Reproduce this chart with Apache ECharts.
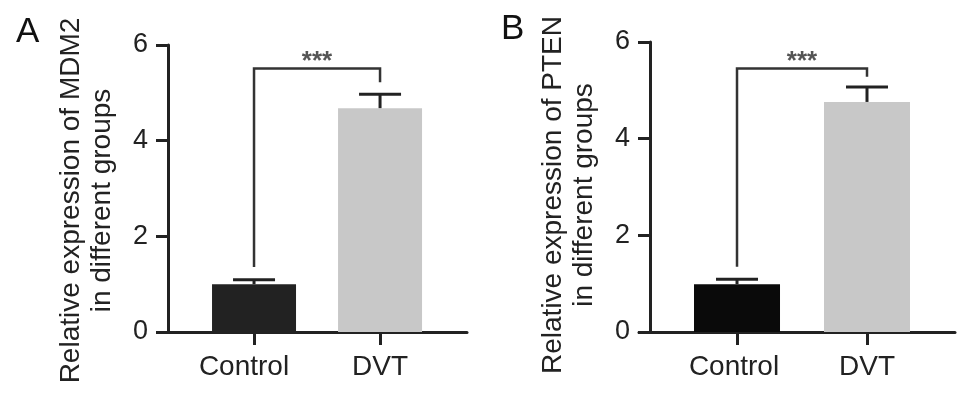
<!DOCTYPE html>
<html>
<head>
<meta charset="utf-8">
<script src="https://cdn.jsdelivr.net/npm/echarts@6/dist/echarts.min.js"></script>
<style>
html, body { margin: 0; padding: 0; background: #fff; }
#chart { width: 969px; height: 398px; }
</style>
</head>
<body>
<div id="chart"></div>
<script>
var groups = ['Control', 'DVT'];
var groupPos = [1, 2];
var yTicks = [0, 2, 4, 6];

// panel A: MDM2
var mdm2Mean = [1.0, 4.68];
var mdm2Upper = [1.09, 4.97];
var mdm2Bracket = [1.36, 5.51, 5.22]; // left foot, top, right foot

// panel B: PTEN
var ptenMean = [0.99, 4.76];
var ptenUpper = [1.09, 5.07];
var ptenBracket = [1.35, 5.45, 5.28];

var FONT = '"Liberation Sans", Arial, sans-serif';
var INK = '#222';

var chart = echarts.init(document.getElementById('chart'));

function barData(mean, colors) {
    return mean.map(function (v, i) {
        return { value: [groupPos[i], v], itemStyle: { color: colors[i] } };
    });
}
function errData(mean, upper) {
    return mean.map(function (v, i) { return [groupPos[i], v, upper[i]]; });
}

function renderErr(params, api) {
    var base = api.coord([api.value(0), api.value(1)]);
    var top = api.coord([api.value(0), api.value(2)]);
    var st = { stroke: INK, lineWidth: 3 };
    return {
        type: 'group',
        children: [
            { type: 'line', shape: { x1: base[0], y1: base[1], x2: top[0], y2: top[1] }, style: st },
            { type: 'line', shape: { x1: top[0] - 21, y1: top[1], x2: top[0] + 21, y2: top[1] }, style: st }
        ]
    };
}

function renderBracket(params, api) {
    var p1 = api.coord([api.value(0), api.value(2)]);
    var p2 = api.coord([api.value(0), api.value(3)]);
    var p3 = api.coord([api.value(1), api.value(3)]);
    var p4 = api.coord([api.value(1), api.value(4)]);
    return {
        type: 'group',
        children: [
            { type: 'polyline', shape: { points: [p1, p2, p3, p4] }, style: { stroke: '#333', lineWidth: 2.5, fill: null } },
            { type: 'text', x: (p2[0] + p3[0]) / 2, y: p2[1] + 6,
              style: { text: '***', fill: '#555', font: 'bold 26px ' + FONT, textAlign: 'center', textVerticalAlign: 'bottom' } }
        ]
    };
}

function xAxisCfg(gridIndex, min, max, ctrlShift) {
    return {
        type: 'value', gridIndex: gridIndex, min: min, max: max,
        splitLine: { show: false },
        axisLine: { lineStyle: { color: INK, width: 3 } },
        axisTick: { customValues: groupPos, length: 13, lineStyle: { color: INK, width: 3 } },
        axisLabel: {
            customValues: groupPos, margin: 21, color: '#222', fontSize: 28, fontFamily: FONT,
            formatter: function (v) {
                var i = Math.round(v) - 1;
                return i === 0 ? '{c|' + groups[i] + '}' : groups[i];
            },
            rich: { c: { fontSize: 28, fontFamily: FONT, color: '#222', padding: [0, ctrlShift, 0, 0] } }
        }
    };
}

function yAxisCfg(gridIndex, offset, name, shift) {
    return {
        type: 'value', gridIndex: gridIndex, min: 0, max: 6, interval: 2, offset: offset,
        splitLine: { show: false },
        axisLine: { show: true, onZero: false, lineStyle: { color: INK, width: 3 } },
        axisTick: { show: true, length: 12, lineStyle: { color: INK, width: 3 } },
        axisLabel: { margin: 20, color: '#222', fontSize: 27, fontFamily: FONT,
            formatter: function (v) { return yTicks.indexOf(v) >= 0 ? String(v) : ''; } },
        name: name, nameLocation: 'middle', nameRotate: 90, nameGap: 50,
        nameTextStyle: { color: '#222', fontSize: 28, fontFamily: FONT, lineHeight: 31, padding: [0, shift, 0, 0] }
    };
}

var option = {
    animation: false,
    backgroundColor: '#fff',
    title: [
        { text: 'A', left: 11, top: 10, textStyle: { fontSize: 35, fontWeight: 'normal', color: '#111', fontFamily: FONT } },
        { text: 'B', left: 496, top: 7, textStyle: { fontSize: 35, fontWeight: 'normal', color: '#111', fontFamily: FONT } }
    ],
    grid: [
        { left: 158, width: 309, top: 45, height: 287, outerBoundsMode: 'none' },
        { left: 639, width: 316, top: 42, height: 290, outerBoundsMode: 'none' }
    ],
    xAxis: [xAxisCfg(0, 0.238, 2.690, 20), xAxisCfg(1, 0.246, 2.677, 6)],
    yAxis: [
        yAxisCfg(0, -10, 'Relative expression of MDM2\nin different groups', 24),
        yAxisCfg(1, -11, 'Relative expression of PTEN\nin different groups', 16)
    ],
    series: [
        { type: 'bar', xAxisIndex: 0, yAxisIndex: 0, barWidth: 84, data: barData(mdm2Mean, ['#222222', '#c8c8c8']) },
        { type: 'custom', xAxisIndex: 0, yAxisIndex: 0, renderItem: renderErr, data: errData(mdm2Mean, mdm2Upper), z: 3 },
        { type: 'custom', xAxisIndex: 0, yAxisIndex: 0, renderItem: renderBracket,
          data: [[groupPos[0], groupPos[1]].concat(mdm2Bracket)], z: 3 },
        { type: 'bar', xAxisIndex: 1, yAxisIndex: 1, barWidth: 86, data: barData(ptenMean, ['#0a0a0a', '#c8c8c8']) },
        { type: 'custom', xAxisIndex: 1, yAxisIndex: 1, renderItem: renderErr, data: errData(ptenMean, ptenUpper), z: 3 },
        { type: 'custom', xAxisIndex: 1, yAxisIndex: 1, renderItem: renderBracket,
          data: [[groupPos[0], groupPos[1]].concat(ptenBracket)], z: 3 }
    ]
};
chart.setOption(option);
window.addEventListener('resize', function () { chart.resize(); });
</script>
</body>
</html>
